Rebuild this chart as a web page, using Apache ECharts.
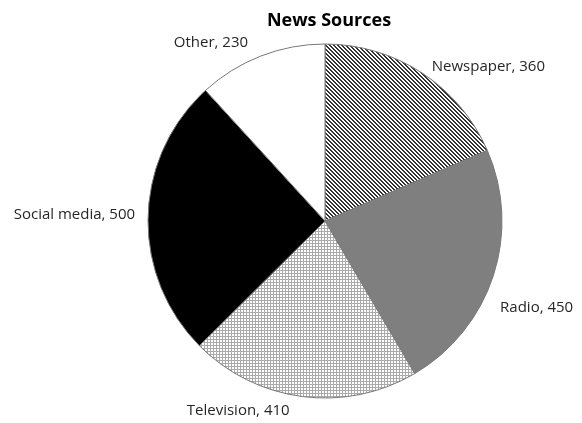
<!DOCTYPE html>
<html><head><meta charset="utf-8">
<script src="https://cdn.jsdelivr.net/npm/echarts@6/dist/echarts.min.js"></script>
<style>html,body{margin:0;padding:0;background:#fff}#c{width:582px;height:423px}</style>
</head><body><div id="c"></div>
<script>
const categories = ['Newspaper', 'Radio', 'Television', 'Social media', 'Other'];
const values = [360, 450, 410, 500, 230];
const chartTitle = 'News Sources';

function diagPattern() {
  const c = document.createElement('canvas');
  c.width = 4; c.height = 4;
  const g = c.getContext('2d');
  g.fillStyle = '#fff'; g.fillRect(0, 0, 4, 4);
  g.fillStyle = '#333';
  for (let i = 0; i < 4; i++) { g.fillRect(i, i, 1, 1); g.fillRect((i + 1) % 4, i, 1, 1); }
  return c;
}
function gridPattern() {
  const c = document.createElement('canvas');
  c.width = 3; c.height = 3;
  const g = c.getContext('2d');
  g.fillStyle = '#fff'; g.fillRect(0, 0, 3, 3);
  g.fillStyle = '#aaa';
  g.fillRect(0, 0, 3, 1); g.fillRect(0, 0, 1, 3);
  return c;
}
const fills = [
  { image: diagPattern(), repeat: 'repeat' },
  '#7f7f7f',
  { image: gridPattern(), repeat: 'repeat' },
  '#000000',
  '#ffffff'
];
// small label nudges to mimic the original's label placement
const labelNudge = [[2, -2], [-3, 30], [-7, 9], [-3, -2], [-6, -9]];

const chart = echarts.init(document.getElementById('c'));
chart.setOption({
  animation: false,
  title: { text: chartTitle, left: 324, top: 7, textAlign: 'center',
    textStyle: { fontFamily: 'Open Sans', fontWeight: 'bold', fontSize: 18, color: '#000' } },
  series: [{
    type: 'pie',
    center: [325, 221],
    radius: 177,
    startAngle: 90,
    clockwise: true,
    avoidLabelOverlap: false,
    itemStyle: { borderColor: '#777', borderWidth: 1 },
    label: { show: true, position: 'outside', formatter: '{b}, {c}',
      fontFamily: 'Open Sans', fontSize: 15, color: '#262626' },
    labelLine: { show: false, length: 5, length2: 0 },
    labelLayout: function (p) {
      const n = labelNudge[p.dataIndex] || [0, 0];
      return { dx: n[0], dy: n[1] };
    },
    emphasis: { disabled: true },
    data: categories.map((n, i) => ({ name: n, value: values[i], itemStyle: { color: fills[i] } }))
  }]
});
</script></body></html>
